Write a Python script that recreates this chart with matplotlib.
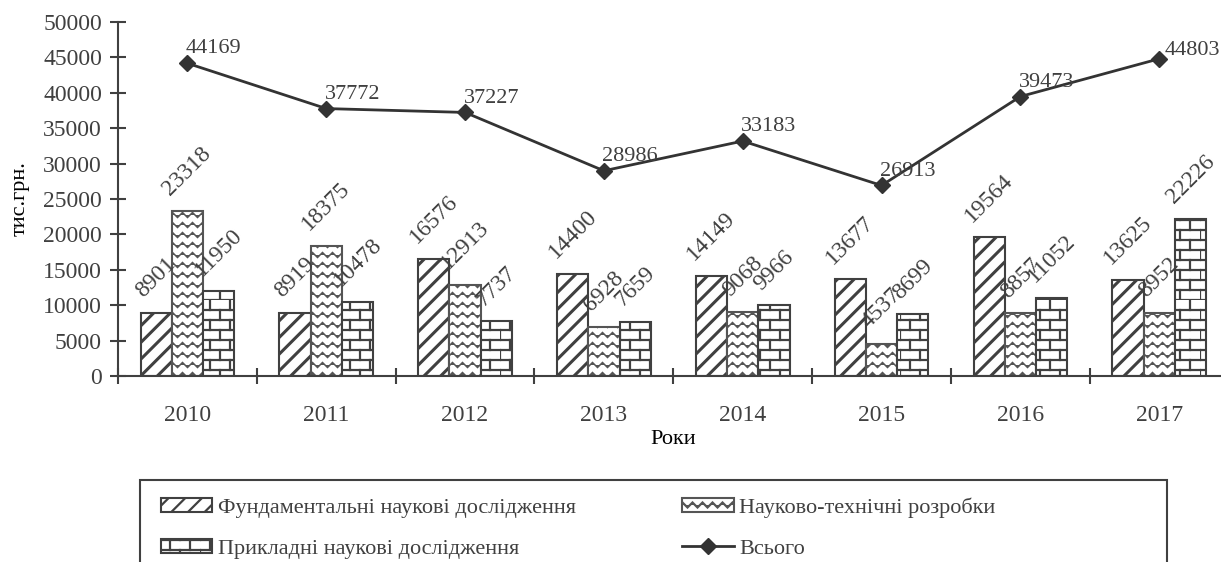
import warnings
import numpy as np
import matplotlib
matplotlib.use('Agg')
import matplotlib.pyplot as plt
import matplotlib.hatch as mhatch
from matplotlib.path import Path
from matplotlib.patches import Rectangle

warnings.filterwarnings('ignore')

years = ['2010', '2011', '2012', '2013', '2014', '2015', '2016', '2017']
fundamental = [8901, 8919, 16576, 14400, 14149, 13677, 19564, 13625]
scitech = [23318, 18375, 12913, 6928, 9068, 4537, 8857, 8952]
applied = [11950, 10478, 7737, 7659, 9966, 8699, 11052, 22226]
total = [44169, 37772, 37227, 28986, 33183, 26913, 39473, 44803]

labels = ['Фундаментальні наукові дослідження', 'Науково-технічні розробки',
          'Прикладні наукові дослідження', 'Всього']


# custom hatches: '~' wavy lines, 'b' bricks
class WaveHatch(mhatch.HatchPatternBase):
    def __init__(self, hatch, density):
        self.rows = hatch.count('~') * 5
        self.periods = 10
        self.pts = self.periods * 4 + 1
        self.num_vertices = self.rows * self.pts

    def set_vertices_and_codes(self, vertices, codes):
        xs = np.linspace(0, 1, self.pts)
        k = 0
        for i in range(self.rows):
            y0 = (i + 0.5) / self.rows
            ys = y0 + 0.025 * np.sin(2 * np.pi * self.periods * xs)
            vertices[k:k + self.pts, 0] = xs
            vertices[k:k + self.pts, 1] = ys
            codes[k] = Path.MOVETO
            codes[k + 1:k + self.pts] = Path.LINETO
            k += self.pts


class BrickHatch(mhatch.HatchPatternBase):
    def __init__(self, hatch, density):
        n = hatch.count('b')
        self.rows = 10 * n
        self.cols = 5
        self.num_vertices = self.rows * 2 + self.rows * self.cols * 2

    def set_vertices_and_codes(self, vertices, codes):
        k = 0
        for i in range(self.rows):
            y0 = i / self.rows
            vertices[k] = (0, y0)
            vertices[k + 1] = (1, y0)
            codes[k] = Path.MOVETO
            codes[k + 1] = Path.LINETO
            k += 2
            for j in range(self.cols):
                x = (j + 0.5 * (i % 2)) / self.cols
                vertices[k] = (x, y0)
                vertices[k + 1] = (x, y0 + 1 / self.rows)
                codes[k] = Path.MOVETO
                codes[k + 1] = Path.LINETO
                k += 2


mhatch._hatch_types.append(WaveHatch)
mhatch._hatch_types.append(BrickHatch)
mhatch._validate_hatch_pattern = lambda h: None

dark = '#404040'
plt.rcParams['font.family'] = ['Liberation Serif', 'DejaVu Serif']
plt.rcParams['hatch.linewidth'] = 1.6
plt.rcParams['hatch.color'] = dark
plt.rcParams['text.color'] = dark
plt.rcParams['axes.edgecolor'] = dark
plt.rcParams['xtick.color'] = dark
plt.rcParams['ytick.color'] = dark

fig = plt.figure(figsize=(12.21, 5.62), dpi=100)
ax = fig.add_axes([118 / 1221, 186 / 562, 1110.6 / 1221, 354 / 562])

x = np.arange(len(years))
w = 0.225
b1 = ax.bar(x - w, fundamental, w, color='white', edgecolor=dark, linewidth=1.5, hatch='//', label=labels[0])
b2 = ax.bar(x, scitech, w, color='white', edgecolor='#555555', linewidth=1.5, hatch='~~', label=labels[1])
b3 = ax.bar(x + w, applied, w, color='white', edgecolor=dark, linewidth=1.5, hatch='b', label=labels[2])
for r in b1:
    if hasattr(r, 'set_hatch_linewidth'):
        r.set_hatch_linewidth(2.2)
for r in b2:
    if hasattr(r, 'set_hatch_linewidth'):
        r.set_hatch_linewidth(1.1)
ln, = ax.plot(x, total, color='#333333', lw=2, marker='D', ms=8, label=labels[3])

for bars, vals in ((b1, fundamental), (b2, scitech), (b3, applied)):
    for rect, v in zip(bars, vals):
        ax.annotate(str(v), (rect.get_x() + rect.get_width() / 2, v), xytext=(0, 8),
                    textcoords='offset points', rotation=45, ha='center', va='bottom', fontsize=17)

for i, (xi, v) in enumerate(zip(x, total)):
    if i == len(total) - 1:
        ax.annotate(str(v), (xi, v), xytext=(4, 6), textcoords='offset points',
                    ha='left', va='center', fontsize=16)
    else:
        ax.annotate(str(v), (xi, v), xytext=(-1, 3.5), textcoords='offset points',
                    ha='left', va='bottom', fontsize=16)

ax.set_xlim(-0.5, 7.5)
ax.set_ylim(0, 50000)
ax.set_yticks(np.arange(0, 50001, 5000))
ax.set_xticks(x)
ax.set_xticklabels(years)
ax.set_xticks(np.arange(-0.5, 7.6, 1), minor=True)
ax.tick_params(axis='x', which='major', length=0, pad=21, labelsize=17)
ax.tick_params(axis='x', which='minor', direction='inout', length=11, width=1.5)
ax.tick_params(axis='y', direction='inout', length=11, width=1.5, pad=6, labelsize=17)
ax.spines['top'].set_visible(False)
ax.spines['right'].set_visible(False)
ax.spines['left'].set_linewidth(1.5)
ax.spines['bottom'].set_linewidth(1.5)
ax.set_xlabel('Роки', fontsize=16, labelpad=3)
ax.set_ylabel('тис.грн.', fontsize=16, labelpad=10)

leg = fig.legend([b1, b3, b2, ln], [labels[0], labels[2], labels[1], labels[3]],
                 ncol=2, loc='upper left', bbox_to_anchor=(150 / 1221, 1 - 486 / 562),
                 frameon=False, fontsize=16, handlelength=2.3, handleheight=0.6,
                 handletextpad=0.25, labelspacing=0.95, columnspacing=4.8, numpoints=1,
                 borderpad=0)
fig.add_artist(Rectangle((140 / 1221, -0.1), (1167 - 140) / 1221, 0.1 + (562 - 480) / 562,
                         transform=fig.transFigure, fill=False, edgecolor=dark, lw=1.5,
                         clip_on=False))

fig.savefig('out.png', dpi=100)
